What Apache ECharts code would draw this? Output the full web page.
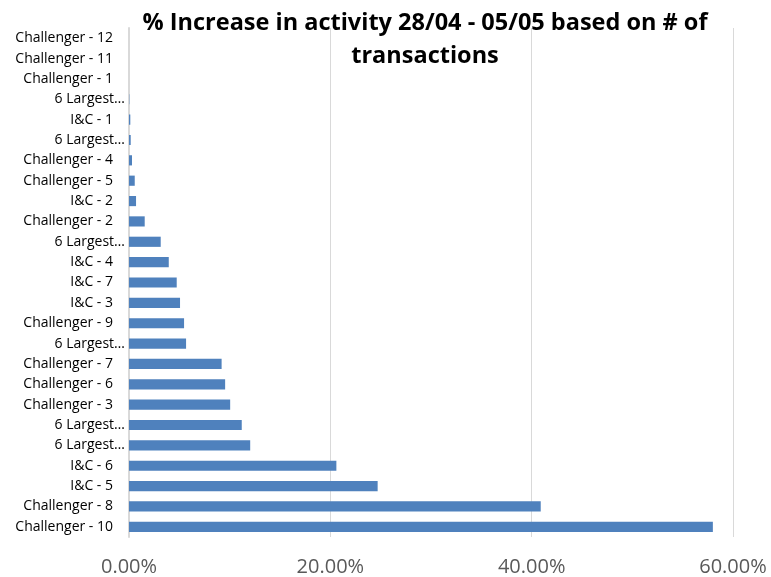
<!DOCTYPE html>
<html>
<head>
<meta charset="utf-8">
<script src="https://cdn.jsdelivr.net/npm/echarts@6/dist/echarts.min.js"></script>
<style>
  html, body { margin: 0; padding: 0; background: #fff; }
  #chart { width: 771px; height: 577px; }
</style>
</head>
<body>
<div id="chart"></div>
<script>
// categories from bottom to top
const categories = [
  'Challenger - 10', 'Challenger - 8', 'I&C - 5', 'I&C - 6',
  '6 Largest - 1', '6 Largest - 2', 'Challenger - 3', 'Challenger - 6',
  'Challenger - 7', '6 Largest - 3', 'Challenger - 9', 'I&C - 3',
  'I&C - 7', 'I&C - 4', '6 Largest - 4', 'Challenger - 2',
  'I&C - 2', 'Challenger - 5', 'Challenger - 4', '6 Largest - 5',
  'I&C - 1', '6 Largest - 6', 'Challenger - 1', 'Challenger - 11',
  'Challenger - 12'
];
// % increase (fraction)
const increase = [
  0.580, 0.409, 0.247, 0.206,
  0.1204, 0.112, 0.1005, 0.0955,
  0.092, 0.0567, 0.0547, 0.0507,
  0.0474, 0.0395, 0.0315, 0.0156,
  0.007, 0.0057, 0.003, 0.0017,
  0.0013, 0.0003, 0, 0,
  0
];
const xTicks = [0, 0.2, 0.4, 0.6];

const font = '"Open Sans", Lato, sans-serif';
const chart = echarts.init(document.getElementById('chart'));

const option = {
  animation: false,
  title: {
    text: '% Increase in activity 28/04 - 05/05 based on # of\ntransactions',
    left: 420,
    top: 2,
    textAlign: 'center',
    textStyle: {
      fontFamily: font,
      fontWeight: 'bold',
      fontSize: 23.5,
      lineHeight: 33,
      color: '#000'
    }
  },
  grid: { left: 129, right: 38, top: 28, bottom: 40 },
  xAxis: {
    type: 'value',
    min: xTicks[0],
    max: xTicks[xTicks.length - 1],
    interval: 0.2,
    axisLine: { show: false },
    axisTick: { show: false },
    splitLine: { show: true, lineStyle: { color: '#d9d9d9', width: 1 } },
    axisLabel: {
      margin: 20,
      fontFamily: font,
      fontSize: 20,
      color: '#595959',
      formatter: v => (v * 100).toFixed(2) + '%'
    }
  },
  yAxis: {
    type: 'category',
    data: categories,
    axisLine: { show: true, lineStyle: { color: '#d9d9d9', width: 2 } },
    axisTick: { show: false },
    axisLabel: {
      margin: 4,
      fontFamily: font,
      fontSize: 14,
      color: '#000',
      formatter: name => name.indexOf('6 Largest') === 0 ? '6 Largest\u2026' : '{n|' + name + '}',
      rich: {
        n: { fontFamily: font, fontSize: 14, color: '#000', padding: [0, 12, 0, 0] }
      }
    }
  },
  series: [{
    type: 'bar',
    data: increase,
    barCategoryGap: '50%',
    itemStyle: { color: '#4f81bd' }
  }]
};

chart.setOption(option);
</script>
</body>
</html>
